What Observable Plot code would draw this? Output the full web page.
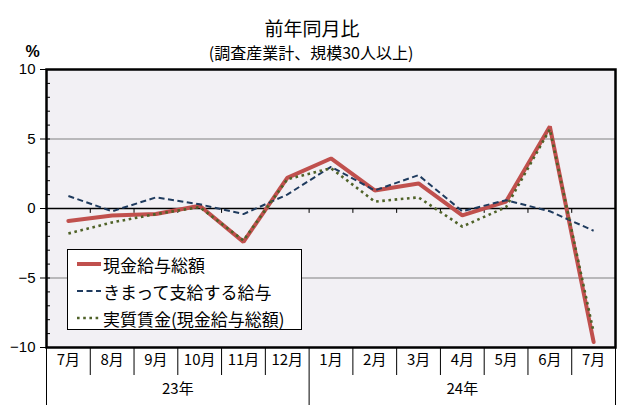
<!DOCTYPE html>
<html>
<head>
<meta charset="utf-8">
<script src="https://cdn.jsdelivr.net/npm/d3@7"></script>
<script src="https://cdn.jsdelivr.net/npm/@observablehq/plot@0.6"></script>
<style>
  html, body { margin: 0; padding: 0; background: #fff; }
  #wrap { position: relative; width: 630px; height: 410px; font-family: "Noto Sans CJK JP", sans-serif; }
  #legend { position: absolute; left: 67px; top: 249px; width: 233px; height: 79px; border: 1px solid #000; background: #fff; }
  .row { position: absolute; left: 0; height: 26px; display: flex; align-items: center; font-size: 17px; color: #000; white-space: nowrap; }
  .row svg { margin-left: 9px; margin-right: 2px; }
</style>
</head>
<body>
<div id="wrap"></div>
<script>
// ---- data ----
const months = ["7月","8月","9月","10月","11月","12月","1月","2月","3月","4月","5月","6月","7月"];
const monthYears = ["23年","23年","23年","23年","23年","23年","24年","24年","24年","24年","24年","24年","24年"];
const seriesNames = ["現金給与総額", "きまって支給する給与", "実質賃金(現金給与総額)"];
const total     = [-0.9, -0.5, -0.4, 0.2, -2.4, 2.2, 3.6, 1.3, 1.8, -0.5, 0.5, 5.9, -9.6];
const scheduled = [ 0.9, -0.2,  0.8, 0.3, -0.4, 1.0, 3.0, 1.3, 2.4, -0.2, 0.6, -0.2, -1.6];
const real      = [-1.8, -1.0, -0.4, 0.1, -2.3, 2.1, 2.9, 0.5, 0.8, -1.3, 0.1, 5.7, -8.9];
const yTicks = [10, 5, 0, -5, -10];
const yMinor = d3.range(-10, 11, 1);
const title = "前年同月比";
const subtitle = "(調査産業計、規模30人以上)";
const unitLabel = "%";

// ---- styles ----
const styles = [
  {stroke: "#c0504d", strokeWidth: 4, strokeDasharray: null, strokeLinecap: "round"},
  {stroke: "#1f3b5e", strokeWidth: 2, strokeDasharray: "6,3.5", strokeLinecap: "butt"},
  {stroke: "#4f6228", strokeWidth: 2.6, strokeDasharray: "2.6,3.6", strokeLinecap: "butt"}
];
const seriesValues = [total, scheduled, real];

const idx = months.map((_, i) => i);
const boundaries = d3.range(0, months.length + 1).map(i => ({
  x: i - 0.5,
  long: i === 0 || i === months.length || monthYears[i] !== monthYears[i - 1]
}));
const innerBoundaries = boundaries.filter(b => b.x > -0.5 && b.x < months.length - 0.5);
const yearGroups = d3.groups(idx, i => monthYears[i]).map(([label, is]) => ({label, x: d3.mean(is)}));

const lineMarks = seriesValues.map((vals, s) =>
  Plot.line(idx, {x: i => i, y: i => vals[i], ...Object.fromEntries(Object.entries(styles[s]).filter(([k, v]) => v != null)), strokeLinejoin: "miter"})
);

const fmt = d => String(d).replace("-", "−");

const chart = Plot.plot({
  width: 630,
  height: 410,
  marginLeft: 46,
  marginRight: 15,
  marginTop: 69,
  marginBottom: 63,
  style: {background: "#fff", fontFamily: "'Noto Sans CJK JP', sans-serif", overflow: "visible"},
  x: {domain: [-0.5, months.length - 0.5], axis: null},
  y: {domain: [-10, 10], axis: null},
  marks: [
    Plot.frame({fill: "#f2f0f4", stroke: "none"}),
    Plot.ruleY([5, -5], {stroke: "#808080", strokeWidth: 1}),
    Plot.ruleY([0], {stroke: "#000", strokeWidth: 1.5}),
    Plot.ruleX(innerBoundaries, {x: "x", y1: 0, y2: -0.35, stroke: "#000", strokeWidth: 1}),
    Plot.ruleY(yMinor, {stroke: "#000", strokeWidth: 1, insetRight: 565}),
    Plot.ruleY(yTicks, {stroke: "#000", strokeWidth: 1, insetLeft: -6, insetRight: 569}),
    ...lineMarks,
    Plot.frame({stroke: "#000", strokeWidth: 2.5}),
    Plot.text(yTicks, {y: d => d, text: fmt, frameAnchor: "left", dx: -11, textAnchor: "end", fontSize: 15, fontFamily: "'Liberation Sans', Arial, sans-serif", fill: "#000"}),
    Plot.ruleX(boundaries.filter(b => !b.long), {x: "x", insetTop: 278, insetBottom: -28, stroke: "#000", strokeWidth: 1}),
    Plot.ruleX(boundaries.filter(b => b.long), {x: "x", insetTop: 278, insetBottom: -58, stroke: "#000", strokeWidth: 1}),
    Plot.text(idx, {x: i => i, text: i => months[i], frameAnchor: "bottom", dy: 17, fontSize: 15, letterSpacing: 1, fill: "#000"}),
    Plot.text(yearGroups, {x: "x", text: "label", frameAnchor: "bottom", dy: 46, fontSize: 15, letterSpacing: 1.5, fill: "#000"}),
    Plot.text([title], {text: d => d, frameAnchor: "top", dx: -19, dy: -47, fontSize: 19, letterSpacing: 1.5, fill: "#000"}),
    Plot.text([subtitle], {text: d => d, frameAnchor: "top", dx: -20, dy: -22, fontSize: 16, letterSpacing: 0.6, fill: "#000"}),
    Plot.text([unitLabel], {text: d => d, frameAnchor: "top-left", textAnchor: "middle", dx: -14, dy: -24, fontSize: 16, fontWeight: "bold", fill: "#000", fontFamily: "'Liberation Sans', Arial, sans-serif"})
  ]
});

const wrap = document.getElementById("wrap");
wrap.appendChild(chart);

// legend
const legend = document.createElement("div");
legend.id = "legend";
seriesNames.forEach((name, s) => {
  const row = document.createElement("div");
  row.className = "row";
  row.style.top = (1 + s * 27) + "px";
  const st = styles[s];
  row.innerHTML = `<svg width="24" height="10"><line x1="0" y1="5" x2="24" y2="5" stroke="${st.stroke}" stroke-width="${st.strokeWidth}" ${st.strokeDasharray ? `stroke-dasharray="${st.strokeDasharray}"` : ""}/></svg><span>${name}</span>`;
  legend.appendChild(row);
});
wrap.appendChild(legend);
</script>
</body>
</html>
